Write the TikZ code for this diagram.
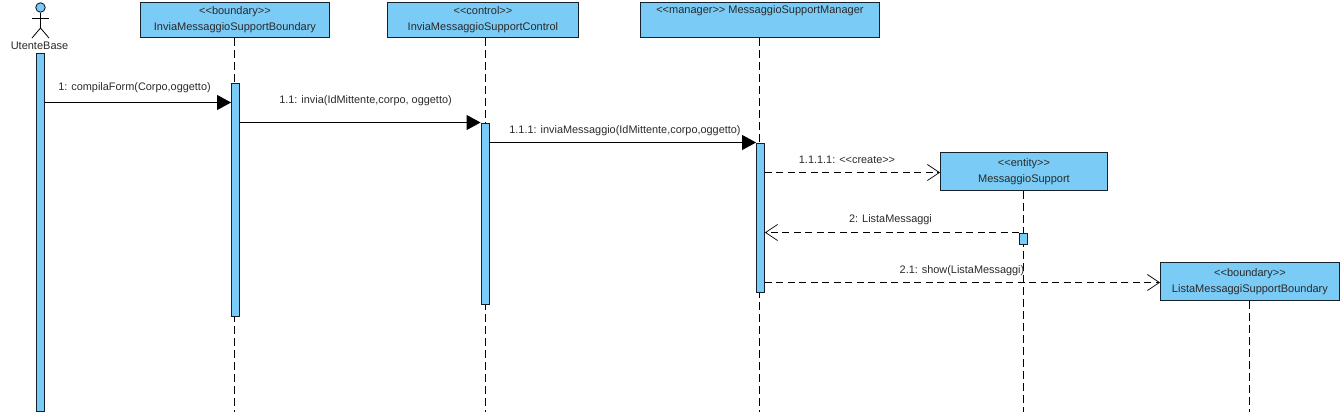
\documentclass[tikz,border=0pt]{standalone}
\usepackage{fontspec}
\setmainfont{Liberation Sans}
\usepackage{tikz}
\usetikzlibrary{
  arrows.meta,
  positioning,
}
\definecolor{lifeFill}{HTML}{7ACBF5}
\definecolor{lifeLine}{HTML}{14202A}
\definecolor{labelText}{HTML}{2A2A2A}
\newcommand{\stereo}[1]{<{}<#1>{}>}
\tikzset{
  classbox/.style={draw=lifeLine, fill=lifeFill, line width=0.9pt, inner sep=0pt,
    anchor=north west, align=center, text=labelText, font=\fontsize{11}{16}\selectfont},
  activation/.style={draw=lifeLine, fill=lifeFill, line width=0.9pt, inner sep=0pt,
    minimum width=8pt, anchor=north},
  lifeline/.style={draw=black, line width=0.9pt, dash pattern=on 8pt off 4pt},
  callmsg/.style={draw=black, line width=0.9pt, -{Triangle[length=14pt,width=15pt]}},
  returnmsg/.style={draw=black, line width=0.9pt, dash pattern=on 7pt off 4.5pt,
    -{Straight Barb[length=12pt,width=16pt,line width=0.7pt]}},
  msglabel/.style={inner sep=0pt, text=labelText, font=\fontsize{10.9}{12}\selectfont},
}

\begin{document}
\begin{tikzpicture}[x=1pt, y=-1pt]
\useasboundingbox (0,0) rectangle (1344,416);

% lifeline heads
\foreach \name/\xa/\ya/\w/\h/\txt in {%
  boundaryA/140/2/189/35/{\stereo{boundary}\\InviaMessaggioSupportBoundary},%
  controlA/387/2/191/35/{\stereo{control}\\InviaMessaggioSupportControl},%
  managerA/640/2/239/35/{\stereo{manager} MessaggioSupportManager\\\strut},%
  entityA/940/152/167/38/{\stereo{entity}\\MessaggioSupport},%
  boundaryB/1160/262/179/38/{\stereo{boundary}\\ListaMessaggiSupportBoundary}%
}
{
  \node[classbox, minimum width=\w pt, minimum height=\h pt] (\name) at (\xa,\ya) {\txt};
}

% dashed lines, ends at the lower edge
\foreach \name/\xl in {boundaryA/234, controlA/485, managerA/759, entityA/1023, boundaryB/1249}
{
  \coordinate (\name End) at (\xl,412);
  \draw[lifeline] (\name End |- \name.south) -- (\name End);
}

% actor
\node[draw=lifeLine, fill=lifeFill, circle, line width=0.9pt, inner sep=0pt,
      minimum size=9.5pt] (actorHead) at (40.5,7.5) {};
\coordinate (actorHip) at (40.5,28);
\draw[draw=black, line width=0.8pt] (actorHead.south) -- (actorHip);
\draw[draw=black, line width=0.8pt] (32,18) -- (49,18);
\draw[draw=black, line width=0.8pt] (32,38) -- (actorHip) -- (49,38);
\node[msglabel, font=\fontsize{11}{12}\selectfont] (actorLabel) at (39.5,45.5) {UtenteBase};

% activation bars
\foreach \name/\xb/\yb/\h in {%
  barActor/40.5/52.5/358,%
  barBoundary/235.5/82.5/233.5,%
  barControl/485/122.5/181.5,%
  barManager/760.5/142.5/149.5,%
  barEntity/1023.5/232.5/11.5%
}
{
  \node[activation, minimum height=\h pt] (\name) at (\xb,\yb) {};
}

% message rows
\coordinate (rowA) at (0,102.5);
\coordinate (rowB) at (0,122.5);
\coordinate (rowC) at (0,142.5);
\coordinate (rowD) at (0,172.5);
\coordinate (rowE) at (0,232.5);
\coordinate (rowF) at (0,282.5);

\draw[callmsg] (barActor.east |- rowA) -- (barBoundary.west |- rowA);
\draw[callmsg] (barBoundary.east |- rowB) -- (barControl.west |- rowB);
\draw[callmsg] (barControl.east |- rowC) -- (barManager.west |- rowC);
\draw[returnmsg] (barManager.east |- rowD) -- (entityA.west |- rowD);
\draw[returnmsg] (barEntity.west |- rowE) -- (barManager.east |- rowE);
\draw[returnmsg] (barManager.east |- rowF) -- (boundaryB.west |- rowF);

% message labels
\foreach \name/\xc/\yc/\txt in {%
  msgA/134.5/88/{1: compilaForm(Corpo,oggetto)},%
  msgB/365.5/101/{1.1: invia(IdMittente,corpo, oggetto)},%
  msgC/625/131/{1.1.1: inviaMessaggio(IdMittente,corpo,oggetto)},%
  msgD/847/160/{1.1.1.1: \stereo{create}},%
  msgE/890.5/220/{2: ListaMessaggi},%
  msgF/962/271/{2.1: show(ListaMessaggi)}%
}
{
  \node[msglabel] (\name) at (\xc,\yc) {\txt};
}

\end{tikzpicture}
\end{document}
